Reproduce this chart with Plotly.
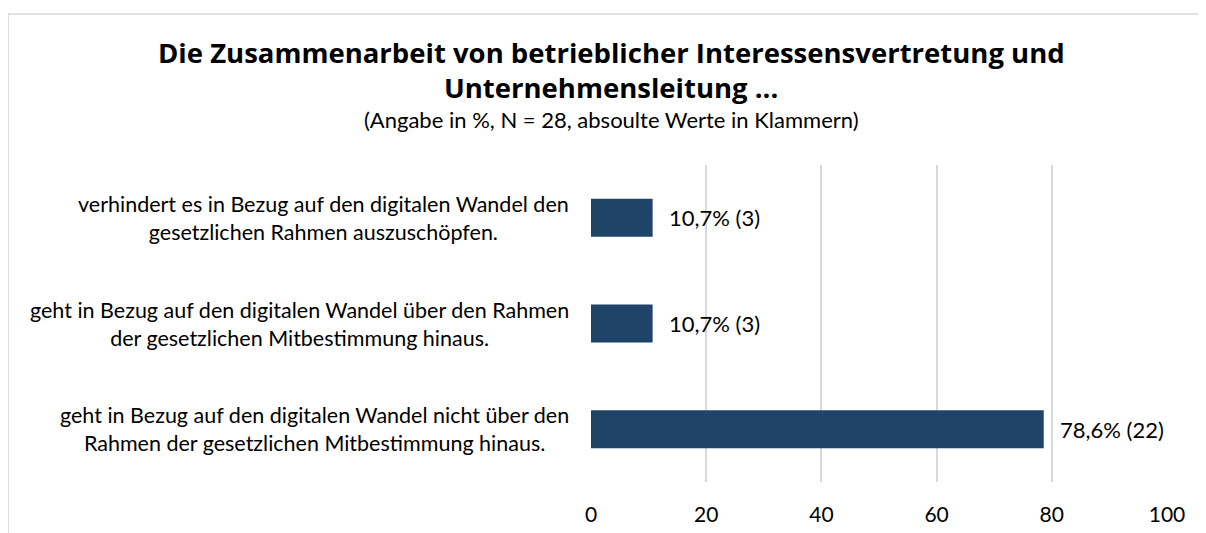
import plotly.graph_objects as go

categories = [
    "geht in Bezug auf den digitalen Wandel nicht über den<br>Rahmen der gesetzlichen Mitbestimmung hinaus.",
    "geht in Bezug auf den digitalen Wandel über den Rahmen<br>der gesetzlichen Mitbestimmung hinaus.",
    "verhindert es in Bezug auf den digitalen Wandel den<br>gesetzlichen Rahmen auszuschöpfen.",
]
values = [78.6, 10.7, 10.7]
counts = [22, 3, 3]
tick_vals = [0, 20, 40, 60, 80, 100]
title_lines = ["Die Zusammenarbeit von betrieblicher Interessensvertretung und",
               "Unternehmensleitung ..."]
subtitle = "(Angabe in %, N = 28, absoulte Werte in Klammern)"

# page offset (body margin) = 8px; coordinates below are figure pixels
W, H = 1206, 533
L, R, T, B = 583, 47, 157, 59
pw, ph = W - L - R, H - T - B
FONT = "Lato"
TFONT = "Open Sans"


def px_x(x):
    return (x - L) / pw


def px_y(y):
    return 1 + (T - y) / ph


fig = go.Figure()
fig.add_trace(go.Bar(
    y=list(range(len(categories))), x=values, orientation="h",
    marker=dict(color="#1F4468", line=dict(width=0)),
    width=0.36, hoverinfo="skip",
))

for i, (v, c) in enumerate(zip(values, counts)):
    fig.add_annotation(x=v, y=i, xref="x", yref="y",
                       text=f"{v:.1f}".replace(".", ",") + f"% ({c})",
                       xanchor="left", yanchor="middle", xshift=14, showarrow=False,
                       font=dict(family=FONT, size=22, color="#000000"))
    fig.add_annotation(x=px_x(563), y=i, xref="paper", yref="y",
                       text=categories[i], xanchor="right", yanchor="middle",
                       align="center", showarrow=False,
                       font=dict(family=FONT, size=21.5, color="#000000"))

for txt, fy in zip(title_lines, [44, 80]):
    fig.add_annotation(x=px_x(603), y=px_y(fy), xref="paper", yref="paper",
                       text=f"<b>{txt}</b>", showarrow=False, xanchor="center",
                       yanchor="middle",
                       font=dict(family=TFONT, size=27.5, color="#000000"))
fig.add_annotation(x=px_x(603), y=px_y(111), xref="paper", yref="paper",
                   text=subtitle, showarrow=False, xanchor="center", yanchor="middle",
                   font=dict(family=FONT, size=22, color="#000000"))

# outer frame (top and left edges visible)
fig.add_shape(type="line", xref="paper", yref="paper",
              x0=px_x(0), x1=px_x(W), y0=px_y(6), y1=px_y(6),
              line=dict(color="#D9D9D9", width=1.5), layer="below")
fig.add_shape(type="line", xref="paper", yref="paper",
              x0=px_x(0), x1=px_x(0), y0=px_y(6), y1=px_y(H),
              line=dict(color="#D9D9D9", width=1.5), layer="below")

fig.update_layout(
    width=W, height=H,
    margin=dict(l=L, r=R, t=T, b=B, pad=0),
    paper_bgcolor="white", plot_bgcolor="white",
    showlegend=False,
    font=dict(family=FONT, color="#000000"),
    xaxis=dict(range=[0, 100], tickvals=tick_vals, ticktext=[str(t) for t in tick_vals],
               showgrid=True, gridcolor="#D9D9D9", gridwidth=1.5,
               zeroline=False, showline=False, ticks="", ticklabelstandoff=18,
               tickfont=dict(family=FONT, size=21, color="#000000")),
    yaxis=dict(range=[-0.5, 2.5], showticklabels=False, showgrid=False,
               zeroline=False, showline=False, ticks=""),
)

fig.write_html("out.html")
